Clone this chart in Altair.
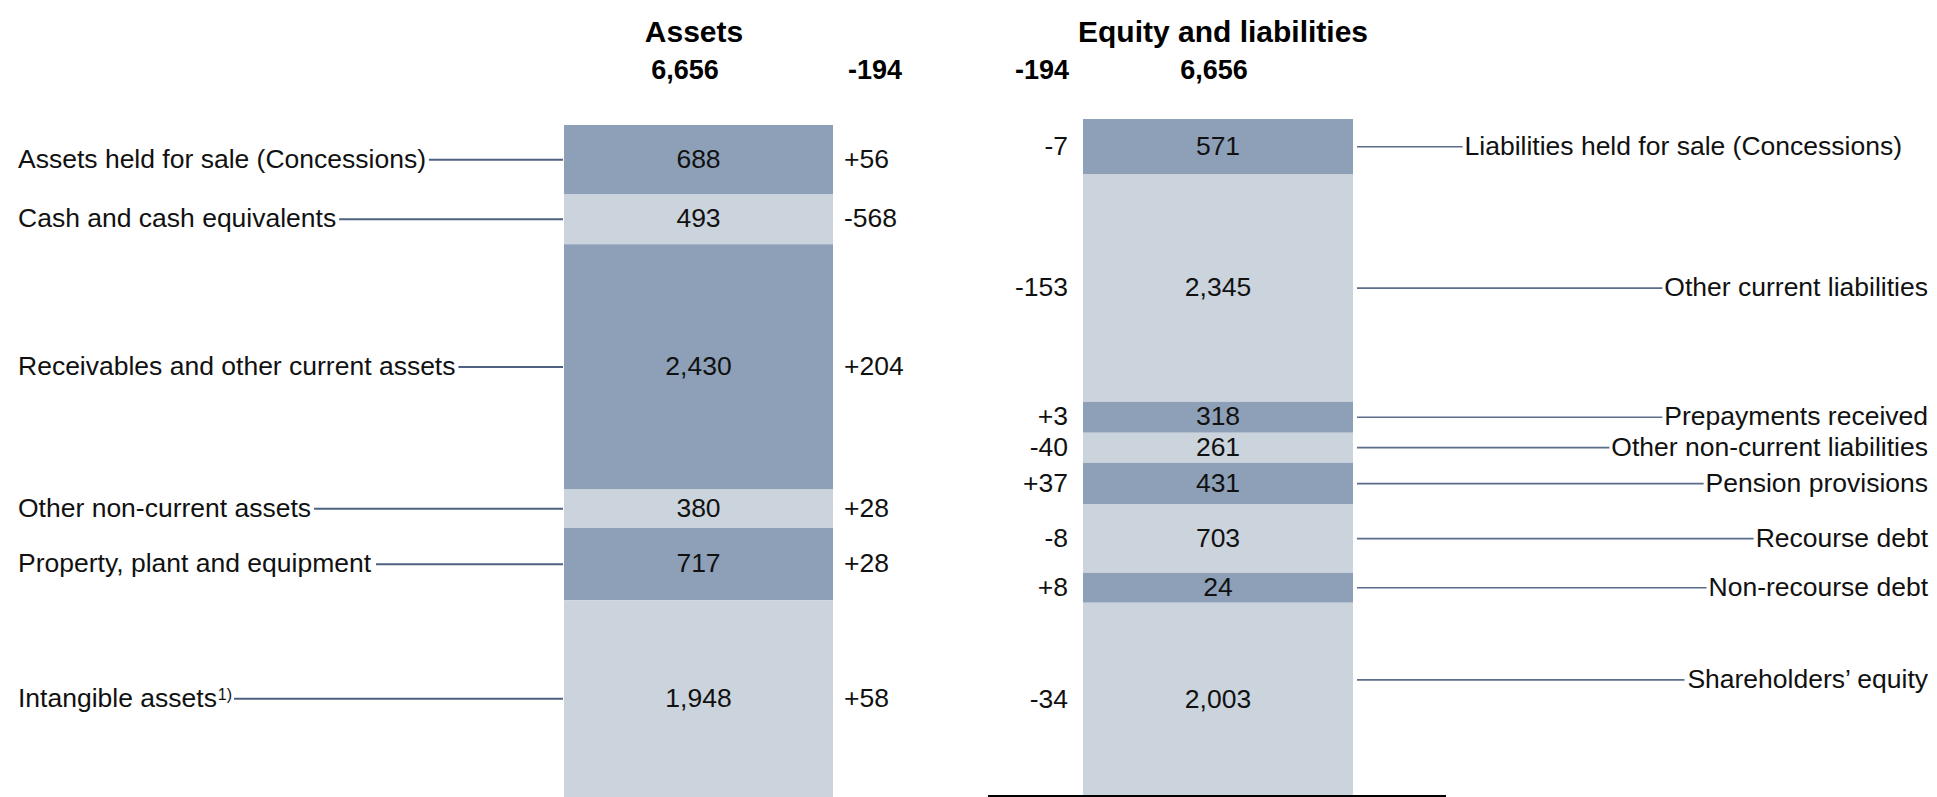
import altair as alt
import pandas as pd

# ---------------- data ----------------
asset_items = [
    "Assets held for sale (Concessions)",
    "Cash and cash equivalents",
    "Receivables and other current assets",
    "Other non-current assets",
    "Property, plant and equipment",
    "Intangible assets",
]
asset_values = [688, 493, 2430, 380, 717, 1948]
asset_changes = [56, -568, 204, 28, 28, 58]
asset_notes = ["", "", "", "", "", "1)"]

liab_items = [
    "Liabilities held for sale (Concessions)",
    "Other current liabilities",
    "Prepayments received",
    "Other non-current liabilities",
    "Pension provisions",
    "Recourse debt",
    "Non-recourse debt",
    "Shareholders\u2019 equity",
]
liab_values = [571, 2345, 318, 261, 431, 703, 24, 2003]
liab_changes = [-7, -153, 3, -40, 37, -8, 8, -34]

titles = ["Assets", "Equity and liabilities"]

# ---------------- style / layout ----------------
FONT = "Liberation Sans"
DARK = "#8DA0B8"
LIGHT = "#CBD3DC"
LINE = "#4E6180"
LINE_R = "#5A6D8A"
FS = 26.5
H = 789
WL, WR = 960, 961
MIN_SEG = 310          # minimum drawn size of a segment (value units), right column
LABEL_NUDGE_PX = {"Shareholders\u2019 equity": -20}
LABEL_SHIFT_X = {"Liabilities held for sale (Concessions)": -26}

AFM = {" ": 278, "(": 333, ")": 333, ",": 278, "-": 333, "\u2019": 222, "+": 584,
       "A": 667, "C": 722, "I": 278, "L": 556, "N": 722, "O": 778, "P": 667, "R": 722, "S": 667,
       "a": 556, "b": 556, "c": 500, "d": 556, "e": 556, "f": 278, "g": 556, "h": 556, "i": 222,
       "j": 222, "k": 500, "l": 222, "m": 833, "n": 556, "o": 556, "p": 556, "q": 556, "r": 333,
       "s": 500, "t": 278, "u": 556, "v": 500, "w": 722, "x": 500, "y": 500, "z": 500}


def tw(s, size=FS):
    return sum(AFM.get(c, 556) for c in s) * size / 1000.0


def build(items, values, changes, min_seg=0):
    disp = [max(v, min_seg) for v in values]
    df = pd.DataFrame({"item": items, "value": values, "change": changes, "disp": disp})
    df["end"] = df["disp"].cumsum()
    df["start"] = df["end"] - df["disp"]
    df["mid"] = (df["start"] + df["end"]) / 2
    df["shade"] = ["dark" if i % 2 == 0 else "light" for i in range(len(df))]
    df["val_txt"] = df["value"].map(lambda v: f"{v:,}")
    df["chg_txt"] = df["change"].map(lambda c: f"{c:+d}")
    df["w"] = df["item"].map(tw)
    return df


color = alt.Color("shade:N", scale=alt.Scale(domain=["dark", "light"], range=[DARK, LIGHT]), legend=None)

# ---------------- left panel ----------------
L = build(asset_items, asset_values, asset_changes)
L["note"] = asset_notes
totalL = int(sum(asset_values))
chgL = int(sum(asset_changes))
LX = 10
L_BAR0, L_BAR1 = 556, 825
L["note_x"] = LX + L["w"] + 1
L["x0"] = LX + L["w"] + [tw(n, 16) + 3 if n else 3 for n in asset_notes]
yL = alt.Scale(domain=[0, totalL], range=[117, H], nice=False, zero=False)

baseL = alt.Chart(L)
barsL = baseL.mark_rect().encode(
    x=alt.value(L_BAR0), x2=alt.value(L_BAR1),
    y=alt.Y("start:Q", scale=yL, axis=None), y2="end:Q", color=color)
valsL = baseL.mark_text(font=FONT, fontSize=FS, align="center", baseline="middle", color="#111").encode(
    x=alt.value((L_BAR0 + L_BAR1) / 2), y=alt.Y("mid:Q", scale=yL, axis=None), text="val_txt:N")
chgsL = baseL.mark_text(font=FONT, fontSize=FS, align="left", baseline="middle", color="#111").encode(
    x=alt.value(836), y=alt.Y("mid:Q", scale=yL, axis=None), text="chg_txt:N")
labsL = baseL.mark_text(font=FONT, fontSize=FS, align="left", baseline="middle", color="#111").encode(
    x=alt.value(LX), y=alt.Y("mid:Q", scale=yL, axis=None), text="item:N")
notesL = baseL.transform_filter("datum.note != ''").mark_text(
    font=FONT, fontSize=16, align="left", baseline="alphabetic", dy=1, color="#111").encode(
    x=alt.X("note_x:Q", scale=None), y=alt.Y("mid:Q", scale=yL, axis=None), text="note:N")
rulesL = baseL.mark_rule(color=LINE, strokeWidth=2).encode(
    x=alt.X("x0:Q", scale=None), x2=alt.value(L_BAR0 - 1), y=alt.Y("mid:Q", scale=yL, axis=None))

headL = pd.DataFrame({"title": [titles[0]], "total": [f"{totalL:,}"], "chg": [f"{chgL:+d}"]})
hL = alt.Chart(headL)
titleL = hL.mark_text(font=FONT, fontSize=30, fontWeight="bold", align="center", baseline="middle").encode(
    x=alt.value(686), y=alt.value(25), text="title:N")
totL = hL.mark_text(font=FONT, fontSize=27, fontWeight="bold", align="center", baseline="middle").encode(
    x=alt.value(677), y=alt.value(63), text="total:N")
tchL = hL.mark_text(font=FONT, fontSize=27, fontWeight="bold", align="center", baseline="middle").encode(
    x=alt.value(867), y=alt.value(63), text="chg:N")

left = alt.layer(barsL, valsL, chgsL, labsL, notesL, rulesL, titleL, totL, tchL).properties(width=WL, height=H)

# ---------------- right panel ----------------
R = build(liab_items, liab_values, liab_changes, MIN_SEG)
totalR = int(sum(liab_values))
chgR = int(sum(liab_changes))
dispR = float(R["disp"].sum())
R_TOP = 111
units_per_px = dispR / (H - R_TOP)
R["lab_y"] = R["mid"] + R["item"].map(lambda s: LABEL_NUDGE_PX.get(s, 0)) * units_per_px
RX = 960
R_BAR0, R_BAR1 = 115, 385
R["lab_x"] = RX + R["item"].map(lambda s: LABEL_SHIFT_X.get(s, 0))
R["x1"] = R["lab_x"] - R["w"] - 2
yR = alt.Scale(domain=[0, dispR], range=[R_TOP, H], nice=False, zero=False)

baseR = alt.Chart(R)
barsR = baseR.mark_rect().encode(
    x=alt.value(R_BAR0), x2=alt.value(R_BAR1),
    y=alt.Y("start:Q", scale=yR, axis=None), y2="end:Q", color=color)
valsR = baseR.mark_text(font=FONT, fontSize=FS, align="center", baseline="middle", color="#111").encode(
    x=alt.value((R_BAR0 + R_BAR1) / 2), y=alt.Y("mid:Q", scale=yR, axis=None), text="val_txt:N")
chgsR = baseR.mark_text(font=FONT, fontSize=FS, align="right", baseline="middle", color="#111").encode(
    x=alt.value(100), y=alt.Y("mid:Q", scale=yR, axis=None), text="chg_txt:N")
labsR = baseR.mark_text(font=FONT, fontSize=FS, align="right", baseline="middle", color="#111").encode(
    x=alt.X("lab_x:Q", scale=None), y=alt.Y("lab_y:Q", scale=yR, axis=None), text="item:N")
rulesR = baseR.mark_rule(color=LINE_R, strokeWidth=1.6).encode(
    x=alt.X("x1:Q", scale=None), x2=alt.value(R_BAR1 + 4), y=alt.Y("lab_y:Q", scale=yR, axis=None))

headR = pd.DataFrame({"title": [titles[1]], "total": [f"{totalR:,}"], "chg": [f"{chgR:+d}"]})
hR = alt.Chart(headR)
titleR = hR.mark_text(font=FONT, fontSize=30, fontWeight="bold", align="center", baseline="middle").encode(
    x=alt.value(255), y=alt.value(25), text="title:N")
totR = hR.mark_text(font=FONT, fontSize=27, fontWeight="bold", align="center", baseline="middle").encode(
    x=alt.value(246), y=alt.value(63), text="total:N")
tchR = hR.mark_text(font=FONT, fontSize=27, fontWeight="bold", align="center", baseline="middle").encode(
    x=alt.value(74), y=alt.value(63), text="chg:N")
baseline_rule = hR.mark_rule(color="black", strokeWidth=2).encode(
    x=alt.value(20), x2=alt.value(478), y=alt.value(H - 1))

right = alt.layer(barsR, valsR, chgsR, labsR, rulesR, titleR, totR, tchR, baseline_rule).properties(width=WR, height=H)

chart = (
    alt.hconcat(left, right, spacing=0)
    .properties(padding=0)
    .configure(font=FONT)
    .configure_view(stroke=None, strokeWidth=0)
)

chart.save("out.html", embed_options={"renderer": "svg", "actions": False})
